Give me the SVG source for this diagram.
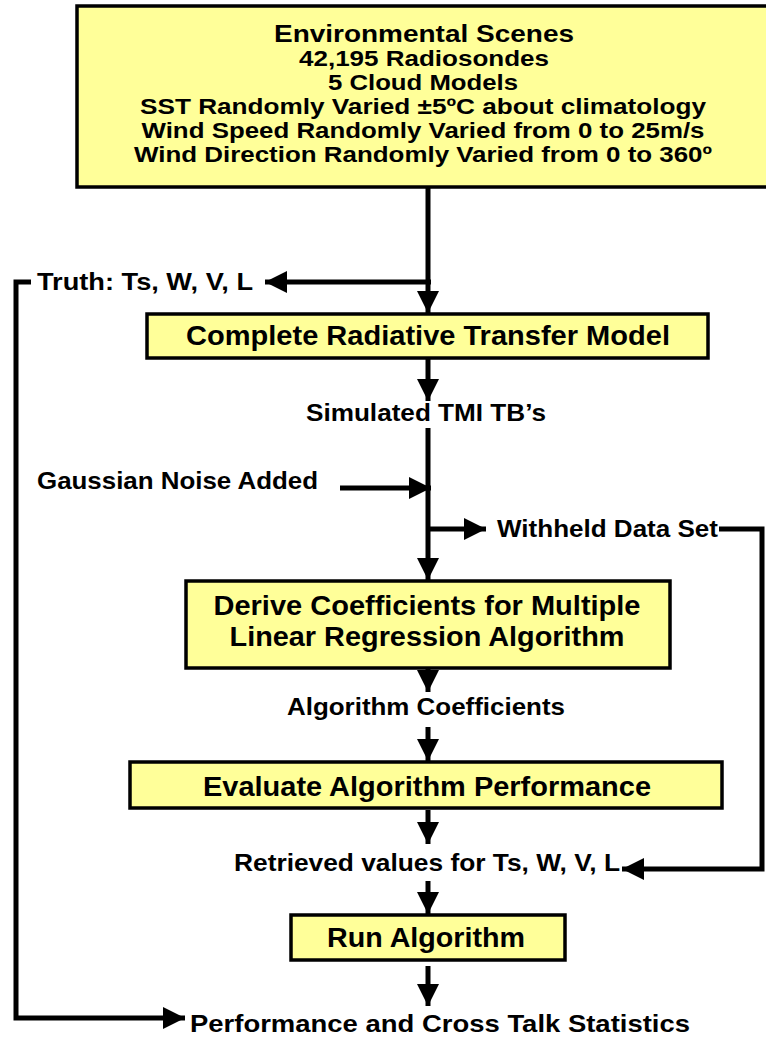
<svg xmlns="http://www.w3.org/2000/svg" width="766" height="1038" viewBox="0 0 766 1038">
<defs>
<style>
.box{fill:#FFFF99;stroke:#000;stroke-width:3.5}
.t{font-family:"Liberation Sans",Arial,sans-serif;font-weight:bold;fill:#000}
.big{font-size:27px}
.mid{font-size:22px}
.sm{font-size:24px}
.ln{fill:none;stroke:#000;stroke-width:5}
</style>
<marker id="ah" viewBox="0 0 10 10" refX="10" refY="5" markerWidth="4.4" markerHeight="4.4" markerUnits="strokeWidth" orient="auto">
<path d="M0,0 L10,5 L0,10 z" fill="#000"/>
</marker>
</defs>
<rect width="766" height="1038" fill="#fff"/>
<g id="connectors">
<line class="ln" x1="428" y1="187" x2="428" y2="313" marker-end="url(#ah)"/>
<line class="ln" x1="431" y1="282" x2="265" y2="282" marker-end="url(#ah)"/>
<polyline class="ln" points="31,282 16,282 16,1018 185,1018" marker-end="url(#ah)"/>
<line class="ln" x1="428" y1="358" x2="428" y2="401" marker-end="url(#ah)"/>
<line class="ln" x1="428" y1="428" x2="428" y2="580" marker-end="url(#ah)"/>
<line class="ln" x1="340" y1="488" x2="431" y2="488" marker-end="url(#ah)"/>
<line class="ln" x1="428" y1="529" x2="486" y2="529" marker-end="url(#ah)"/>
<polyline class="ln" points="719,529 762,529 762,869 622,869" marker-end="url(#ah)"/>
<line class="ln" x1="428" y1="668" x2="428" y2="692" marker-end="url(#ah)"/>
<line class="ln" x1="428" y1="727" x2="428" y2="761" marker-end="url(#ah)"/>
<line class="ln" x1="428" y1="810" x2="428" y2="844" marker-end="url(#ah)"/>
<line class="ln" x1="428" y1="881" x2="428" y2="914" marker-end="url(#ah)"/>
<line class="ln" x1="428" y1="966" x2="428" y2="1006" marker-end="url(#ah)"/>
</g>
<g id="n-env">
<rect class="box" x="77" y="6" width="700" height="181"/>
<text class="t" font-size="24" x="424" y="42" text-anchor="middle" textLength="300" lengthAdjust="spacingAndGlyphs">Environmental Scenes</text>
<text class="t mid" x="424" y="66" text-anchor="middle" textLength="250" lengthAdjust="spacingAndGlyphs">42,195 Radiosondes</text>
<text class="t mid" x="423" y="90" text-anchor="middle" textLength="190" lengthAdjust="spacingAndGlyphs">5 Cloud Models</text>
<text class="t mid" x="423" y="114" text-anchor="middle" textLength="566" lengthAdjust="spacingAndGlyphs">SST Randomly Varied ±5ºC about climatology</text>
<text class="t mid" x="423" y="138" text-anchor="middle" textLength="563" lengthAdjust="spacingAndGlyphs">Wind Speed Randomly Varied from 0 to 25m/s</text>
<text class="t mid" x="423" y="162" text-anchor="middle" textLength="578" lengthAdjust="spacingAndGlyphs">Wind Direction Randomly Varied from 0 to 360º</text>
</g>
<g id="n-truth"><text class="t sm" x="37" y="290" textLength="216" lengthAdjust="spacingAndGlyphs">Truth: Ts, W, V, L</text></g>
<g id="n-rtm">
<rect class="box" x="147" y="314" width="561" height="44"/>
<text class="t big" x="428" y="345" text-anchor="middle" textLength="484" lengthAdjust="spacingAndGlyphs">Complete Radiative Transfer Model</text>
</g>
<g id="n-sim"><text class="t sm" x="426" y="421" text-anchor="middle" textLength="240" lengthAdjust="spacingAndGlyphs">Simulated TMI TB’s</text></g>
<g id="n-noise"><text class="t sm" x="37" y="489" textLength="281" lengthAdjust="spacingAndGlyphs">Gaussian Noise Added</text></g>
<g id="n-withheld"><text class="t sm" x="497" y="537" textLength="221" lengthAdjust="spacingAndGlyphs">Withheld Data Set</text></g>
<g id="n-derive">
<rect class="box" x="186" y="581" width="484" height="87"/>
<text class="t big" x="427" y="615" text-anchor="middle" textLength="427" lengthAdjust="spacingAndGlyphs">Derive Coefficients for Multiple</text>
<text class="t big" x="427" y="646" text-anchor="middle" textLength="395" lengthAdjust="spacingAndGlyphs">Linear Regression Algorithm</text>
</g>
<g id="n-coef"><text class="t sm" x="426" y="715" text-anchor="middle" textLength="278" lengthAdjust="spacingAndGlyphs">Algorithm Coefficients</text></g>
<g id="n-eval">
<rect class="box" x="130" y="762" width="592" height="46"/>
<text class="t big" x="427" y="796" text-anchor="middle" textLength="448" lengthAdjust="spacingAndGlyphs">Evaluate Algorithm Performance</text>
</g>
<g id="n-retr"><text class="t sm" x="427" y="871" text-anchor="middle" textLength="386" lengthAdjust="spacingAndGlyphs">Retrieved values for Ts, W, V, L</text></g>
<g id="n-run">
<rect class="box" x="291" y="915" width="274" height="45"/>
<text class="t big" x="426" y="947" text-anchor="middle" textLength="198" lengthAdjust="spacingAndGlyphs">Run Algorithm</text>
</g>
<g id="n-stats"><text class="t sm" x="190" y="1032" textLength="500" lengthAdjust="spacingAndGlyphs">Performance and Cross Talk Statistics</text></g>
</svg>
